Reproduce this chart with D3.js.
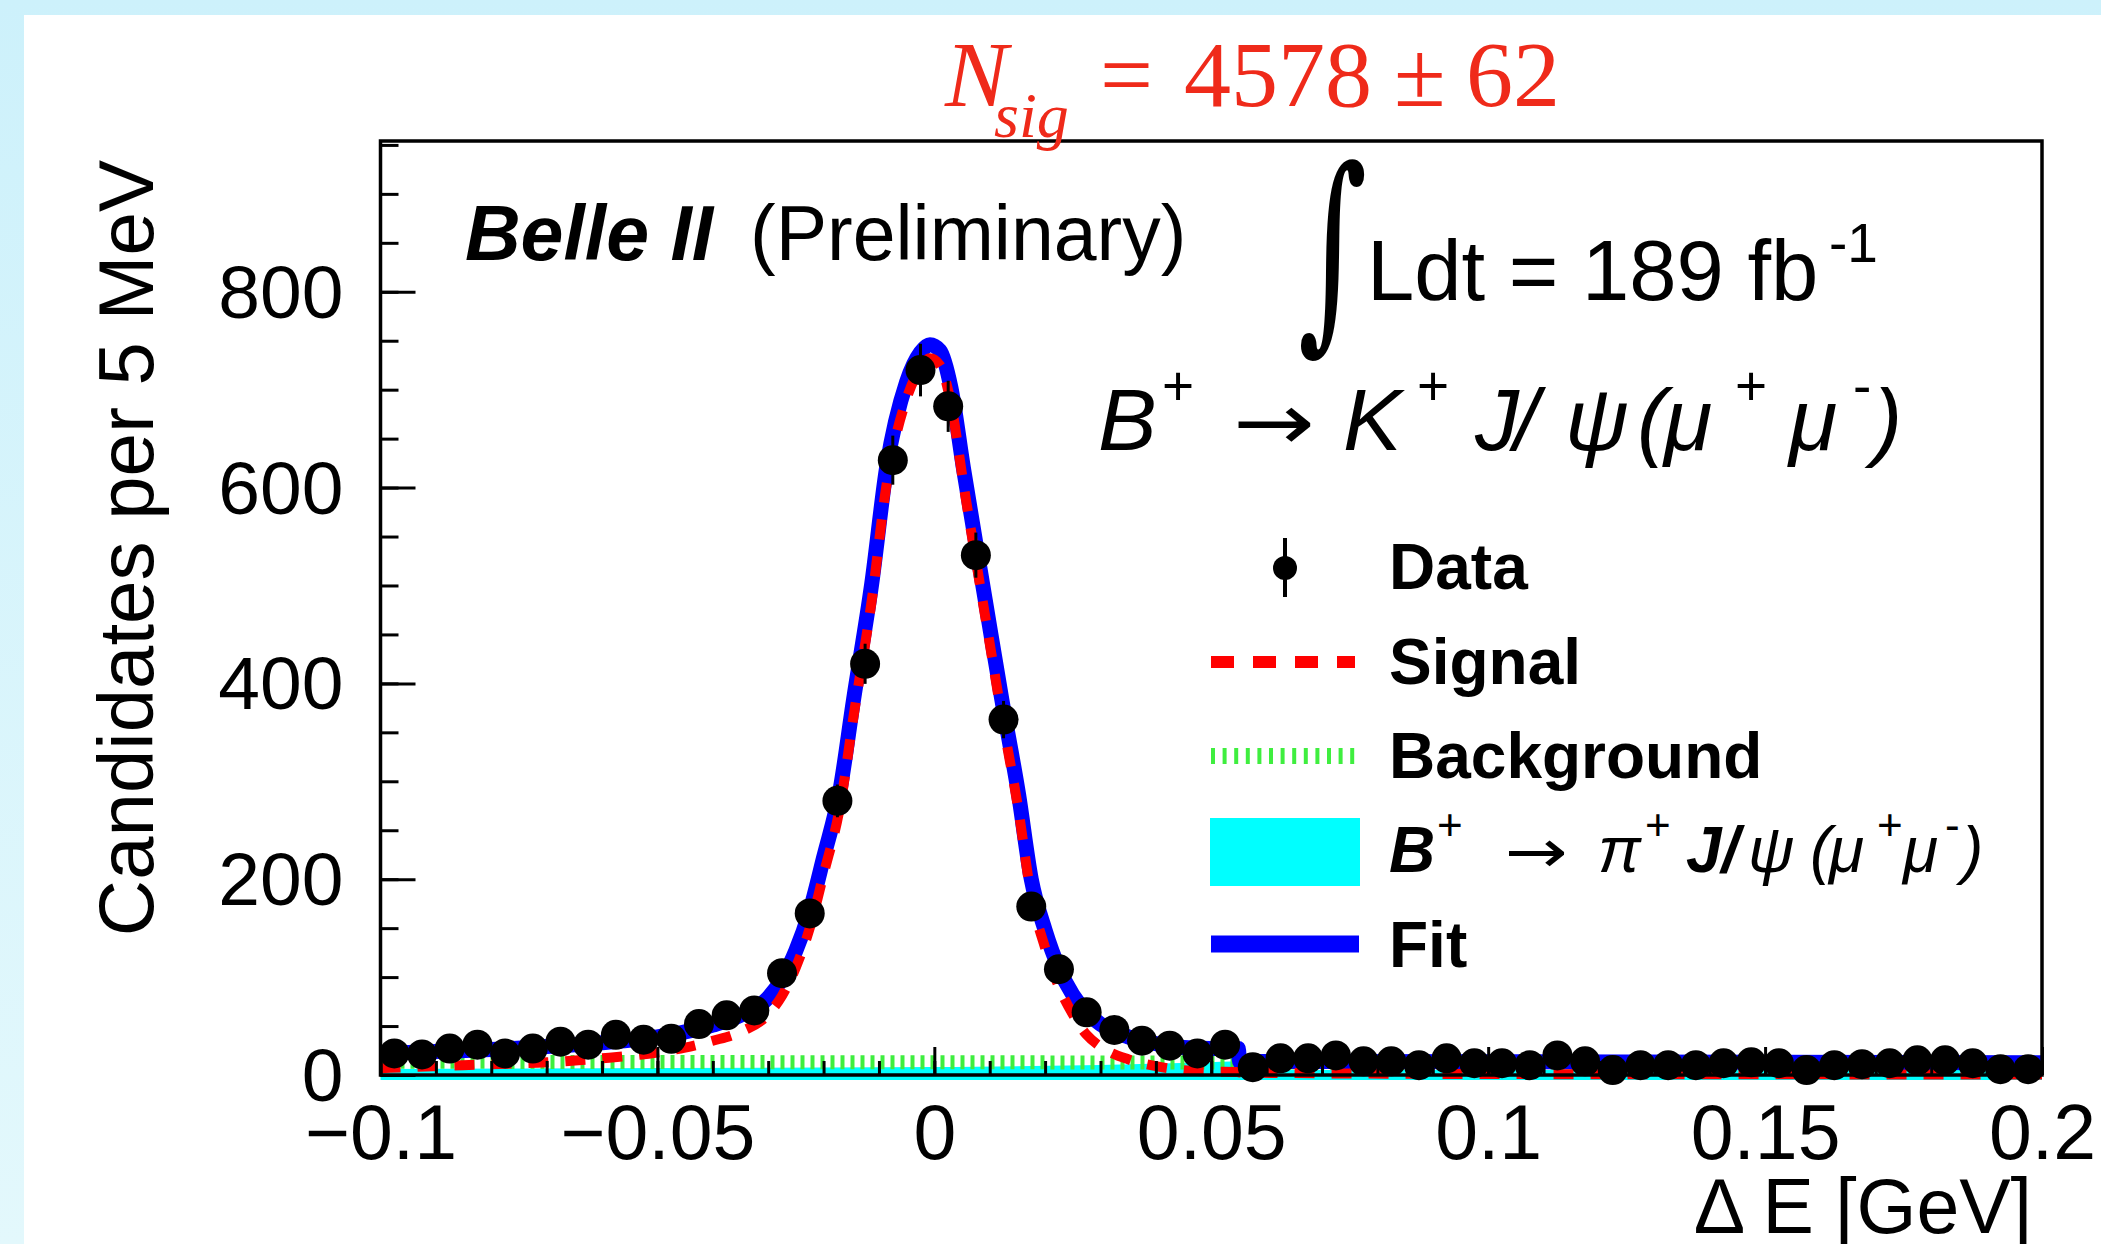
<!DOCTYPE html>
<html>
<head>
<meta charset="utf-8">
<script src="https://cdn.jsdelivr.net/npm/d3@7"></script>
<style>
  body { margin: 0; background: #ffffff; }
</style>
</head>
<body>
<div id="chart"></div>
<script>
// bin centres of the data histogram (5 MeV bins)
var binCenters = [-0.0975, -0.0925, -0.0875, -0.0825, -0.0775, -0.0725, -0.0675, -0.0625, -0.0575, -0.0525,
    -0.0475, -0.0425, -0.0375, -0.0325, -0.0275, -0.0225, -0.0175, -0.0125, -0.0075, -0.0025,
    0.0025, 0.0075, 0.0125, 0.0175, 0.0225, 0.0275, 0.0325, 0.0375, 0.0425, 0.0475,
    0.0525, 0.0575, 0.0625, 0.0675, 0.0725, 0.0775, 0.0825, 0.0875, 0.0925, 0.0975,
    0.1025, 0.1075, 0.1125, 0.1175, 0.1225, 0.1275, 0.1325, 0.1375, 0.1425, 0.1475,
    0.1525, 0.1575, 0.1625, 0.1675, 0.1725, 0.1775, 0.1825, 0.1875, 0.1925, 0.1975];
var dataCounts = [22, 21, 27, 31, 22, 27, 34, 31, 41, 36,
    37, 52, 61, 66, 104, 165, 280, 420, 628, 720,
    683, 531, 363, 172, 108, 64, 46, 35, 30, 22,
    31, 8, 17, 17, 20, 14, 14, 10, 17, 12,
    12, 10, 20, 14, 5, 10, 10, 10, 12, 13,
    12, 5, 10, 11, 12, 15, 15, 12, 6, 6];

// fit curves
var fitX = [-0.1, -0.09, -0.08, -0.07, -0.06, -0.05, -0.045, -0.04, -0.035, -0.03, -0.0275, -0.025, -0.0225,
    -0.02, -0.017, -0.0146, -0.0113, -0.0086, -0.005, -0.0025, -0.0008, 0.001, 0.003, 0.00525, 0.0092,
    0.0122, 0.0152, 0.0175, 0.02, 0.0225, 0.025, 0.0275, 0.03, 0.035, 0.04, 0.045, 0.05, 0.0549, 0.0551,
    0.1, 0.15, 0.2];
var fitTotal = [22, 24, 26, 29, 33, 39, 44, 51, 61, 79, 98, 127, 167,
    222, 292, 383, 502, 621, 708, 738, 746, 740, 702, 620, 485,
    383, 287, 200, 148, 109, 82, 64, 52, 39, 32, 28, 27, 27, 14,
    13.5, 13, 12.5];
var fitSignal = [7, 9, 11, 13, 17, 23, 28, 35, 44, 62, 81, 110, 150,
    205, 275, 366, 485, 604, 691, 722, 732, 725, 686, 604, 468,
    366, 270, 183, 130, 90, 62, 41, 29, 16, 9, 5, 3.5, 3, 2.5,
    1, 0.7, 0.5];
var bkgX = [-0.1, 0.2];
var bkgValues = [13.5, 12];
var peakingX = [-0.1, -0.05, 0, 0.03, 0.05, 0.0549, 0.0551, 0.2];
var peakingValues = [1, 2, 3, 5, 8, 9, 0, 0];

var xMajorTicks = [-0.1, -0.05, 0, 0.05, 0.1, 0.15, 0.2];
var yMajorTicks = [0, 200, 400, 600, 800];
var legendLabels = ["Data", "Signal", "Background", "Fit"];

var svgWidth = 2101;
var svgHeight = 1244;

var plot = { left: 380.5, right: 2042, top: 141, bottom: 1075 };

var svg = d3.select("#chart")
    .append("svg")
    .attr("width", svgWidth)
    .attr("height", svgHeight)
    .attr("font-family", "Liberation Sans, Arial, sans-serif");

var defs = svg.append("defs");
var grad = defs.append("linearGradient")
    .attr("id", "bg")
    .attr("x1", 0).attr("y1", 0).attr("x2", 0).attr("y2", 1);
grad.append("stop").attr("offset", "0%").attr("stop-color", "#cdf1fb");
grad.append("stop").attr("offset", "100%").attr("stop-color", "#e3f8fc");

defs.append("clipPath").attr("id", "plotClip")
    .append("rect")
    .attr("x", plot.left)
    .attr("y", plot.top)
    .attr("width", plot.right - plot.left)
    .attr("height", plot.bottom - plot.top + 12);

// slide background
svg.append("rect")
    .attr("width", svgWidth)
    .attr("height", svgHeight)
    .attr("fill", "url(#bg)");
svg.append("rect")
    .attr("x", 24)
    .attr("y", 15)
    .attr("width", svgWidth - 24)
    .attr("height", svgHeight - 15)
    .attr("fill", "#ffffff");

var xScale = d3.scaleLinear()
    .domain([-0.1, 0.2])
    .range([plot.left, plot.right]);

var yScale = d3.scaleLinear()
    .domain([0, 954])
    .range([plot.bottom, plot.top]);

// peaking background (filled)
var peakArea = d3.area()
    .x(function(d) { return xScale(d[0]); })
    .y0(yScale(0))
    .y1(function(d) { return yScale(d[1]); })
    .curve(d3.curveMonotoneX);

var curves = svg.append("g").attr("clip-path", "url(#plotClip)");

curves.append("path")
    .datum(d3.zip(peakingX, peakingValues))
    .attr("d", peakArea)
    .attr("fill", "#00ffff")
    .attr("stroke", "#00ffff")
    .attr("stroke-width", 10);

// frame and axes
svg.append("rect")
    .attr("x", plot.left)
    .attr("y", plot.top)
    .attr("width", plot.right - plot.left)
    .attr("height", plot.bottom - plot.top)
    .attr("fill", "none")
    .attr("stroke", "#000")
    .attr("stroke-width", 3.5);

var bottomMinor = d3.axisBottom(xScale)
    .tickValues(xScale.ticks(30))
    .tickSize(-14)
    .tickFormat("");
var bottomAxis = d3.axisBottom(xScale)
    .tickValues(xMajorTicks)
    .tickSize(-28)
    .tickFormat(function(d) { return d === 0 ? "0" : d3.format("~g")(d); });

var leftMinor = d3.axisLeft(yScale)
    .tickValues(yScale.ticks(20))
    .tickSize(-18)
    .tickFormat("");
var leftAxis = d3.axisLeft(yScale)
    .tickValues(yMajorTicks)
    .tickSize(-35)
    .tickPadding(37);

[bottomMinor, bottomAxis].forEach(function(ax) {
    var g = svg.append("g")
        .attr("transform", `translate(0, ${plot.bottom})`)
        .call(ax);
    g.select(".domain").remove();
    g.attr("font-family", null);
    g.selectAll("line").attr("stroke", "#000").attr("stroke-width", 3);
    g.selectAll("text")
        .attr("y", 84)
        .attr("dy", 0)
        .attr("fill", "#000")
        .attr("font-size", 77);
});

[leftMinor, leftAxis].forEach(function(ax) {
    var g = svg.append("g")
        .attr("transform", `translate(${plot.left}, 0)`)
        .call(ax);
    g.select(".domain").remove();
    g.attr("font-family", null);
    g.selectAll("line").attr("stroke", "#000").attr("stroke-width", 3);
    g.selectAll("text")
        .attr("dy", "0.34em")
        .attr("fill", "#000")
        .attr("font-size", 75);
});

// combinatorial background (dotted green)
var line = d3.line()
    .x(function(d) { return xScale(d[0]); })
    .y(function(d) { return yScale(d[1]); })
    .curve(d3.curveMonotoneX);

curves.append("path")
    .datum(d3.zip(bkgX, bkgValues))
    .attr("d", line)
    .attr("fill", "none")
    .attr("stroke", "#3fee3f")
    .attr("stroke-width", 14)
    .attr("stroke-dasharray", "4,6");

// total fit
curves.append("path")
    .datum(d3.zip(fitX, fitTotal))
    .attr("d", line)
    .attr("fill", "none")
    .attr("stroke", "#0000ff")
    .attr("stroke-width", 15)
    .attr("stroke-linejoin", "round");

// signal
curves.append("path")
    .datum(d3.zip(fitX, fitSignal))
    .attr("d", line)
    .attr("fill", "none")
    .attr("stroke", "#ff0000")
    .attr("stroke-width", 10)
    .attr("stroke-dasharray", "20,17");

// data points
var points = svg.append("g");
var data = d3.zip(binCenters, dataCounts);

points.selectAll(".ex")
    .data(data)
    .enter()
    .append("line")
    .attr("x1", function(d) { return xScale(d[0] - 0.0025); })
    .attr("x2", function(d) { return xScale(d[0] + 0.0025); })
    .attr("y1", function(d) { return yScale(d[1]); })
    .attr("y2", function(d) { return yScale(d[1]); })
    .attr("stroke", "#000")
    .attr("stroke-width", 3);

points.selectAll(".ey")
    .data(data)
    .enter()
    .append("line")
    .attr("x1", function(d) { return xScale(d[0]); })
    .attr("x2", function(d) { return xScale(d[0]); })
    .attr("y1", function(d) { return yScale(d[1] - Math.sqrt(d[1])); })
    .attr("y2", function(d) { return yScale(d[1] + Math.sqrt(d[1])); })
    .attr("stroke", "#000")
    .attr("stroke-width", 3);

points.selectAll("circle")
    .data(data)
    .enter()
    .append("circle")
    .attr("cx", function(d) { return xScale(d[0]); })
    .attr("cy", function(d) { return yScale(d[1]); })
    .attr("r", 15)
    .attr("fill", "#000");

// axis titles
svg.append("text")
    .attr("transform", "translate(153, 160) rotate(-90)")
    .attr("text-anchor", "end")
    .attr("font-size", 78)
    .text("Candidates per 5 MeV");

svg.append("text")
    .attr("x", 2032)
    .attr("y", 1233)
    .attr("text-anchor", "end")
    .attr("font-size", 77)
    .text("Δ E [GeV]");

// signal yield
var title = svg.append("text")
    .attr("font-family", "Liberation Serif, Times New Roman, serif")
    .attr("fill", "#ef2a1a")
    .attr("font-size", 94);
title.append("tspan").attr("x", 945).attr("y", 106).attr("font-style", "italic").text("N");
title.append("tspan").attr("x", 994).attr("y", 137).attr("font-style", "italic").attr("font-size", 64).text("sig");
title.append("tspan").attr("x", 1100).attr("y", 106).text("=");
title.append("tspan").attr("x", 1184).attr("y", 106).text("4578");
title.append("tspan").attr("x", 1394).attr("y", 106).text("±");
title.append("tspan").attr("x", 1466).attr("y", 106).text("62");

// labels inside the frame
var belle = svg.append("text").attr("font-size", 77);
belle.append("tspan").attr("x", 465).attr("y", 260)
    .attr("font-weight", "bold").attr("font-style", "italic").text("Belle II");
belle.append("tspan").attr("x", 750).attr("y", 260).text("(Preliminary)");

svg.append("text")
    .attr("transform", "translate(1298, 322) scale(0.62, 1)")
    .attr("font-family", "DejaVu Serif, serif")
    .attr("font-size", 215)
    .text("∫");

var lumi = svg.append("text").attr("font-size", 85);
lumi.append("tspan").attr("x", 1367).attr("y", 300).text("Ldt = 189 fb");
lumi.append("tspan").attr("x", 1829).attr("y", 262).attr("font-size", 55).text("-1");

var decay = svg.append("text").attr("font-size", 88);
[["B", 1098, 450, 88], ["+", 1162, 405, 55], ["K", 1343, 450, 88], ["+", 1417, 405, 55],
 ["J", 1475, 450, 88], ["/", 1514, 450, 88], ["ψ", 1565, 450, 88], ["(", 1637, 450, 88], ["μ", 1664, 450, 88],
 ["+", 1735, 405, 55], ["μ", 1789, 450, 88], ["-", 1853, 405, 55], [")", 1873, 450, 88]].forEach(function(p) {
    decay.append("tspan")
        .attr("x", p[1])
        .attr("y", p[2])
        .attr("font-size", p[3])
        .attr("font-style", (p[0] === "+" || p[0] === "-") ? "normal" : "italic")
        .text(p[0]);
});
svg.append("text")
    .attr("x", 1233)
    .attr("y", 450)
    .attr("font-family", "DejaVu Sans, sans-serif")
    .attr("font-size", 80)
    .attr("textLength", 82)
    .attr("lengthAdjust", "spacingAndGlyphs")
    .text("→");

// legend
var legend = svg.append("g");
var legX = 1389;
var legY = [589, 683.5, 778, 967];

legend.append("line")
    .attr("x1", 1285).attr("x2", 1285).attr("y1", 538).attr("y2", 597)
    .attr("stroke", "#000").attr("stroke-width", 4);
legend.append("circle")
    .attr("cx", 1285).attr("cy", 568).attr("r", 12).attr("fill", "#000");

legend.append("line")
    .attr("x1", 1211).attr("x2", 1355).attr("y1", 662).attr("y2", 662)
    .attr("stroke", "#ff0000").attr("stroke-width", 12).attr("stroke-dasharray", "23,19");

legend.append("line")
    .attr("x1", 1211).attr("x2", 1355).attr("y1", 756).attr("y2", 756)
    .attr("stroke", "#3fee3f").attr("stroke-width", 16).attr("stroke-dasharray", "4,7.6");

legend.append("rect")
    .attr("x", 1210).attr("y", 818).attr("width", 150).attr("height", 68)
    .attr("fill", "#00ffff");

legend.append("line")
    .attr("x1", 1211).attr("x2", 1359).attr("y1", 944).attr("y2", 944)
    .attr("stroke", "#0000ff").attr("stroke-width", 17);

legend.selectAll(".lab")
    .data(legendLabels)
    .enter()
    .append("text")
    .attr("x", legX)
    .attr("y", function(d, i) { return legY[i]; })
    .attr("font-size", 64)
    .attr("font-weight", "bold")
    .text(function(d) { return d; });

var legDecay = legend.append("text").attr("font-size", 64);
[["B", 1389, 872, 64, "bi"], ["+", 1437, 840, 44, "n"], ["π", 1598, 872, 64, "i"],
 ["+", 1645, 840, 44, "n"], ["J/", 1686, 872, 64, "bi"], ["ψ", 1748, 872, 64, "i"], ["(", 1810, 872, 64, "i"],
 ["μ", 1829, 872, 64, "i"], ["+", 1877, 840, 44, "n"], ["μ", 1903, 872, 64, "i"], ["-", 1945, 840, 44, "n"],
 [")", 1962, 872, 64, "i"]].forEach(function(p) {
    legDecay.append("tspan")
        .attr("x", p[1])
        .attr("y", p[2])
        .attr("font-size", p[3])
        .attr("font-weight", p[4] === "bi" ? "bold" : "normal")
        .attr("font-style", p[4] === "n" ? "normal" : "italic")
        .text(p[0]);
});
legend.append("text")
    .attr("x", 1505)
    .attr("y", 872)
    .attr("font-family", "DejaVu Sans, sans-serif")
    .attr("font-size", 60)
    .attr("textLength", 63)
    .attr("lengthAdjust", "spacingAndGlyphs")
    .text("→");
</script>
</body>
</html>
